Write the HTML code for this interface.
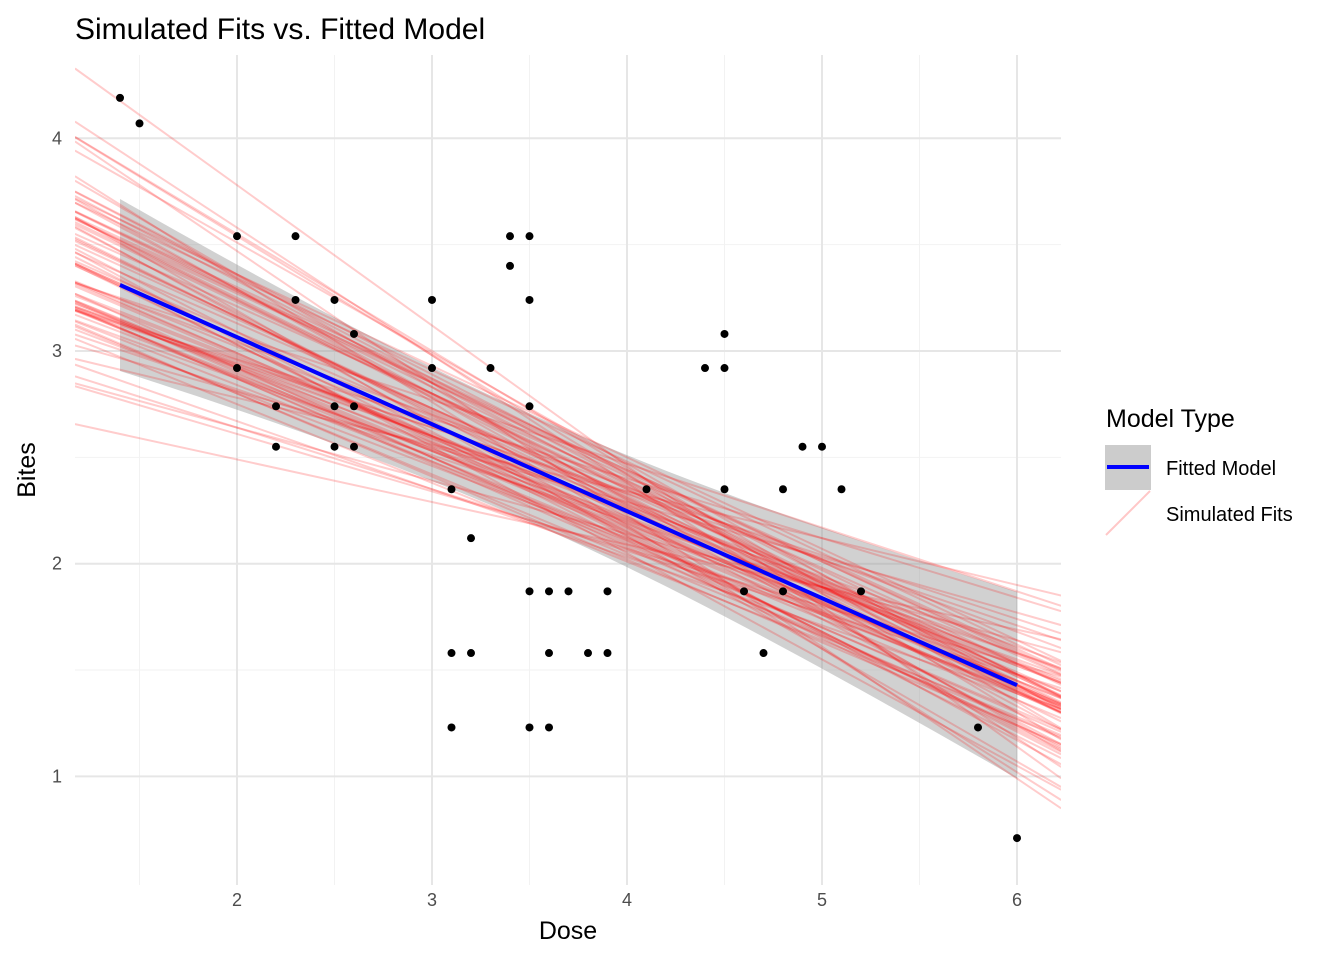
<!DOCTYPE html>
<html><head><meta charset="utf-8"><style>
body{margin:0;background:#fff;}
svg text{font-family:"Liberation Sans",Arial,sans-serif;}
</style></head><body>
<svg id="chart" width="1344" height="960" xmlns="http://www.w3.org/2000/svg">
<rect width="1344" height="960" fill="#fff"/>
<text x="75" y="39" font-size="30" fill="#000">Simulated Fits vs. Fitted Model</text>
<g id="grid"></g>
<defs><clipPath id="pc"><rect x="75" y="55" width="986" height="830"/></clipPath></defs>
<g id="ribbon"></g>
<g id="sims" clip-path="url(#pc)"></g>
<g id="fit"></g>
<g id="pts"></g>
<g id="ticks"></g>
<text x="568" y="939" font-size="25" text-anchor="middle" fill="#000">Dose</text>
<text transform="translate(35,470) rotate(-90)" font-size="25" text-anchor="middle" fill="#000">Bites</text>
<g>
<text x="1106" y="427" font-size="25" fill="#000">Model Type</text>
<rect x="1105" y="445" width="46" height="45" fill="#cccccc"/>
<line x1="1107" y1="467" x2="1149" y2="467" stroke="#0000ff" stroke-width="4"/>
<text x="1166" y="475" font-size="20" fill="#000">Fitted Model</text>
<line x1="1106" y1="535" x2="1150" y2="491" stroke="#ff0000" stroke-opacity="0.22" stroke-width="2"/>
<text x="1166" y="521" font-size="20" fill="#000">Simulated Fits</text>
</g>
</svg>
<script>
const doseVals=[1.4,1.5,2,2,2.2,2.2,2.3,2.3,2.5,2.5,2.5,2.6,2.6,2.6,3,3,3.1,3.1,3.1,3.2,3.2,3.3,3.4,3.4,3.5,3.5,3.5,3.5,3.5,3.6,3.6,3.6,3.7,3.8,3.9,3.9,4.1,4.4,4.5,4.5,4.5,4.6,4.7,4.8,4.8,4.9,5,5.1,5.2,5.8,6];
const biteVals=[4.19,4.07,3.54,2.92,2.74,2.55,3.54,3.24,3.24,2.74,2.55,3.08,2.74,2.55,3.24,2.92,2.35,1.58,1.23,2.12,1.58,2.92,3.54,3.40,3.54,3.24,2.74,1.87,1.23,1.87,1.58,1.23,1.87,1.58,1.87,1.58,2.35,2.92,3.08,2.92,2.35,1.87,1.58,2.35,1.87,2.55,2.55,2.35,1.87,1.23,0.71];
const fitIntercept=3.883, fitSlope=-0.409;
const simAt4=[2.25,2.12,2.38,2.27,2.05,2.43,2.24,2.15,2.34,2.30,2.02,2.47,2.18,2.36,2.10,2.40,2.22,2.28,2.08,2.45,2.26,2.14,2.33,2.20,2.50,2.04,2.31,2.17,2.39,2.13,2.29,2.09,2.42,2.21,2.35,2.07,2.27,2.19,2.44,2.11,2.32,2.06,2.48,2.16,2.37,2.25,2.12,2.41,2.03,2.29,2.23,2.34,2.18,2.46,2.09,2.30,2.14,2.38,2.21,2.26,2.01,2.44,2.17,2.33,2.24,2.11,2.36,2.20,2.42,2.07,2.28,2.15,2.39,2.22,2.31,2.13,2.47,2.19,2.35,2.25];
const simSlope=[-0.41,-0.38,-0.45,-0.33,-0.50,-0.42,-0.36,-0.47,-0.30,-0.43,-0.39,-0.52,-0.35,-0.44,-0.40,-0.28,-0.48,-0.37,-0.42,-0.55,-0.34,-0.46,-0.40,-0.31,-0.43,-0.38,-0.49,-0.36,-0.41,-0.45,-0.26,-0.39,-0.47,-0.33,-0.44,-0.40,-0.51,-0.37,-0.42,-0.35,-0.46,-0.29,-0.43,-0.38,-0.48,-0.41,-0.36,-0.44,-0.32,-0.40,-0.62,-0.22,-0.58,-0.66,-0.20,-0.53,-0.25,-0.60,-0.39,-0.45,-0.37,-0.43,-0.50,-0.31,-0.41,-0.46,-0.34,-0.39,-0.56,-0.27,-0.44,-0.38,-0.48,-0.35,-0.42,-0.53,-0.30,-0.40,-0.45,-0.36];
const xTicks=[2,3,4,5,6];
const yTicks=[1,2,3,4];
const ribbonHalfK=0.146, ribbonC=3.05, ribbonCenter=3.55;
const NS="http://www.w3.org/2000/svg";
const X=d=>237+(d-2)*195;
const Y=v=>351-(v-3)*212.7;
const xMin=1.169,xMax=6.226;
function mk(tag,attrs,parent){const e=document.createElementNS(NS,tag);for(const k in attrs)e.setAttribute(k,attrs[k]);document.getElementById(parent).appendChild(e);return e;}
[1.5,2.5,3.5,4.5,5.5].forEach(d=>{const l=mk('line',{x1:X(d),x2:X(d),y1:55,y2:885,stroke:'#f2f2f2','stroke-width':1},'grid');

});
[1.5,2.5,3.5].forEach(v=>{const l=mk('line',{x1:75,x2:1061,y1:Y(v),y2:Y(v),stroke:'#f2f2f2','stroke-width':1},'grid');

});
xTicks.forEach(d=>{const l=mk('line',{x1:X(d),x2:X(d),y1:55,y2:885,stroke:'#e6e6e6','stroke-width':2},'grid');


const t=mk('text',{x:X(d),y:906,'font-size':18,'text-anchor':'middle',fill:'#4d4d4d'},'ticks');t.textContent=d;

});
yTicks.forEach(v=>{const l=mk('line',{x1:75,x2:1061,y1:Y(v),y2:Y(v),stroke:'#e6e6e6','stroke-width':2},'grid');


const t=mk('text',{x:62,y:Y(v)+6,'font-size':18,'text-anchor':'end',fill:'#4d4d4d'},'ticks');t.textContent=v;

});
const r0=1.4,r1=6;let up=[],lo=[];
for(let i=0;i<=46;i++){const d=r0+(r1-r0)*i/46;const m=fitIntercept+fitSlope*d;const h=ribbonHalfK*Math.sqrt(ribbonC+(d-ribbonCenter)**2);up.push(X(d)+','+Y(m+h));lo.unshift(X(d)+','+Y(m-h));}
const rb=mk('polygon',{points:up.concat(lo).join(' '),fill:'#999999','fill-opacity':0.45},'ribbon');


simAt4.forEach((v,i)=>{const s=simSlope[i];const l=mk('line',{x1:X(xMin),y1:Y(v+s*(xMin-4)),x2:X(xMax),y2:Y(v+s*(xMax-4)),stroke:'#ff0000','stroke-opacity':0.2,'stroke-width':2},'sims');

});
const fl=mk('line',{x1:X(r0),y1:Y(fitIntercept+fitSlope*r0),x2:X(r1),y2:Y(fitIntercept+fitSlope*r1),stroke:'#0000ff','stroke-width':4},'fit');


doseVals.forEach((d,i)=>{const c=mk('circle',{cx:X(d),cy:Y(biteVals[i]),r:4,fill:'#000'},'pts');

});
</script>
</body></html>
